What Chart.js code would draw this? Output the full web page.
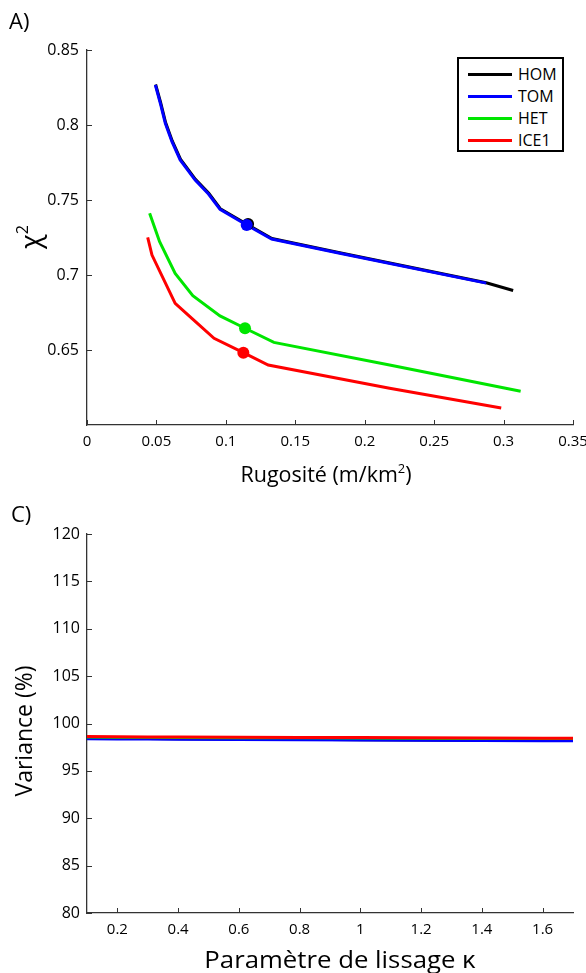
<!DOCTYPE html>
<html>
<head>
<meta charset="utf-8">
<script src="https://cdn.jsdelivr.net/npm/chart.js@4.4.1/dist/chart.umd.min.js"></script>
<style>
  html, body { margin:0; padding:0; background:#fff; }
  body { width:586px; height:973px; position:relative; overflow:hidden; font-family:'Open Sans', sans-serif; color:#000; }
  .cv { position:absolute; left:0; }
  .lbl { position:absolute; white-space:nowrap; line-height:1; }
  .c { transform:translate(-50%,-50%); }
  .rot { transform:translate(-50%,-50%) rotate(-90deg); }
  sup { font-size:60%; vertical-align:0.7em; line-height:0; }
  #legend { position:absolute; left:457px; top:57px; width:103px; height:91px; border:2px solid #000; background:#fff; }
  .li { position:absolute; left:9px; height:20px; display:flex; align-items:center; font-size:16px; }
  .li span.sw { display:inline-block; width:44px; height:3px; margin-right:6px; }
</style>
</head>
<body>
<canvas id="chartA" class="cv" width="586" height="500" style="top:0;width:586px;height:500px"></canvas>
<canvas id="chartC" class="cv" width="586" height="483" style="top:490px;width:586px;height:483px"></canvas>

<div class="lbl" style="left:9px;top:9px;font-size:22px">A)</div>
<div class="lbl" style="left:11px;top:502px;font-size:22px">C)</div>
<div class="lbl c" style="left:326px;top:474px;font-size:21.5px">Rugosité (m/km<sup>2</sup>)</div>
<div class="lbl" style="left:340px;top:959px;font-size:23px;transform:translate(-50%,-50%) scaleX(1.12)">Paramètre de lissage κ</div>
<div class="lbl rot" style="left:29px;top:237px;font-size:27px">χ<sup>2</sup></div>
<div class="lbl rot" style="left:23px;top:731px;font-size:23px">Variance (%)</div>

<div id="legend"></div>

<script>
// ---------- Panel A data : chi2 vs roughness ----------
const seriesNames = ['HOM', 'TOM', 'HET', 'ICE1'];
const seriesColors = ['#000000', '#0000FF', '#00E600', '#FF0000'];

const homX = [0.0494, 0.0530, 0.0566, 0.0614, 0.0673, 0.0781, 0.0877, 0.0960, 0.1152, 0.1332, 0.1820, 0.2875, 0.3069];
const homY = [0.8270, 0.8150, 0.8016, 0.7894, 0.7772, 0.7638, 0.7545, 0.7442, 0.7338, 0.7243, 0.7148, 0.6948, 0.6897];

const tomX = [0.0492, 0.0528, 0.0564, 0.0612, 0.0671, 0.0779, 0.0875, 0.0958, 0.1150, 0.1330, 0.1820, 0.2875];
const tomY = [0.8267, 0.8145, 0.8011, 0.7889, 0.7767, 0.7633, 0.7540, 0.7438, 0.7333, 0.7240, 0.7145, 0.6946];

const hetX = [0.0451, 0.0523, 0.0635, 0.0762, 0.0958, 0.1138, 0.1346, 0.2179, 0.3123];
const hetY = [0.7411, 0.7222, 0.7011, 0.6862, 0.6727, 0.6645, 0.6551, 0.6400, 0.6225];

const iceX = [0.0437, 0.0468, 0.0635, 0.0755, 0.0915, 0.1126, 0.1305, 0.2179, 0.2983];
const iceY = [0.7251, 0.7133, 0.6811, 0.6711, 0.6578, 0.6482, 0.6400, 0.6245, 0.6114];

// optimum markers (HOM, TOM, HET, ICE1)
const markX = [0.1160, 0.1150, 0.1138, 0.1126];
const markY = [0.7340, 0.7333, 0.6645, 0.6482];

const xTicksA = [0, 0.05, 0.1, 0.15, 0.2, 0.25, 0.3, 0.35];
const yTicksA = [0.65, 0.7, 0.75, 0.8, 0.85];

// ---------- Panel C data : variance vs smoothing parameter ----------
const kappa   = [0.1, 0.2, 0.3, 0.4, 0.6, 0.8, 1.0, 1.2, 1.4, 1.6, 1.7];
const varHOM  = [98.42, 98.40, 98.38, 98.36, 98.33, 98.30, 98.27, 98.24, 98.21, 98.19, 98.18];
const varTOM  = [98.37, 98.35, 98.33, 98.31, 98.28, 98.25, 98.22, 98.20, 98.17, 98.15, 98.15];
const varHET  = [98.55, 98.53, 98.51, 98.50, 98.48, 98.46, 98.44, 98.42, 98.40, 98.39, 98.38];
const varICE1 = [98.62, 98.60, 98.58, 98.57, 98.55, 98.53, 98.51, 98.49, 98.47, 98.45, 98.44];

const xTicksC = [0.2, 0.4, 0.6, 0.8, 1, 1.2, 1.4, 1.6];
const yTicksC = [80, 85, 90, 95, 100, 105, 110, 115, 120];

// ---------- helpers ----------
const pts = (xs, ys) => xs.map((x, i) => ({x, y: ys[i]}));

Chart.defaults.font.family = "'Open Sans', sans-serif";
Chart.defaults.font.size = 16;
Chart.defaults.color = '#000';

const inwardTicks = {
  id: 'inwardTicks',
  afterDatasetsDraw(chart) {
    const {ctx, chartArea: a} = chart;
    const xs = chart.scales.x, ys = chart.scales.y;
    ctx.save();
    ctx.strokeStyle = '#333';
    ctx.lineWidth = 1;
    ctx.beginPath();
    xs.ticks.forEach(t => {
      const p = Math.round(xs.getPixelForValue(t.value)) + 0.5;
      ctx.moveTo(p, a.bottom); ctx.lineTo(p, a.bottom - 5);
    });
    ys.ticks.forEach(t => {
      const p = Math.round(ys.getPixelForValue(t.value)) + 0.5;
      ctx.moveTo(a.left, p); ctx.lineTo(a.left + 5, p);
    });
    ctx.stroke();
    ctx.restore();
  }
};

function axis(min, max, ticks, opts) {
  return {
    type: 'linear', min, max,
    afterBuildTicks: s => { s.ticks = ticks.map(v => ({value: v})); },
    afterFit: s => {
      if (opts.w !== undefined) s.width = opts.w;
      if (opts.h !== undefined) s.height = opts.h;
      s.paddingLeft = 0; s.paddingRight = 0; s.paddingTop = 0; s.paddingBottom = 0;
    },
    grid: {display: false, drawTicks: false},
    border: {display: true, color: '#333', width: 1.3},
    ticks: {padding: opts.pad, font: {size: opts.fs || 16}, color: '#000', autoSkip: false, maxRotation: 0, callback: v => String(v)}
  };
}

function baseOptions(pad, scales) {
  return {
    responsive: false, animation: false, devicePixelRatio: 1,
    layout: {padding: pad},
    plugins: {legend: {display: false}, tooltip: {enabled: false}},
    elements: {line: {tension: 0, borderWidth: 3}, point: {radius: 0}},
    scales
  };
}

// ---------- Chart A ----------
const lineSetsA = [pts(homX, homY), pts(tomX, tomY), pts(hetX, hetY), pts(iceX, iceY)];
const dsA = [];
lineSetsA.forEach((d, i) => {
  dsA.push({label: seriesNames[i], data: d, borderColor: seriesColors[i], backgroundColor: seriesColors[i],
            showLine: true, fill: false, pointRadius: 0, borderWidth: 3, order: 20 - i});
});
seriesNames.forEach((n, i) => {
  dsA.push({label: n + ' opt', data: [{x: markX[i], y: markY[i]}], showLine: false,
            pointRadius: 6, pointBackgroundColor: seriesColors[i], pointBorderColor: seriesColors[i],
            pointBorderWidth: 0, order: 5 - i});
});

new Chart(document.getElementById('chartA'), {
  type: 'scatter',
  data: {datasets: dsA},
  options: baseOptions({top: 50, right: 13, left: 0, bottom: 0}, {
    x: axis(0, 0.35, xTicksA, {h: 75, pad: 8, fs: 15}),
    y: axis(0.6, 0.85, yTicksA, {w: 87, pad: 8})
  }),
  plugins: [inwardTicks]
});

// ---------- Chart C ----------
const varSets = [varHOM, varTOM, varHET, varICE1];
const dsC = varSets.map((v, i) => ({
  label: seriesNames[i], data: pts(kappa, v), borderColor: seriesColors[i], backgroundColor: seriesColors[i],
  showLine: true, fill: false, pointRadius: 0, borderWidth: i === 3 ? 3 : 2.5, order: 20 - i
}));

new Chart(document.getElementById('chartC'), {
  type: 'scatter',
  data: {datasets: dsC},
  options: baseOptions({top: 44, right: 13, left: 0, bottom: 0}, {
    x: axis(0.1, 1.7, xTicksC, {h: 60, pad: 8, fs: 15}),
    y: axis(80, 120, yTicksC, {w: 87, pad: 7})
  }),
  plugins: [inwardTicks]
});

// ---------- Legend (panel A) ----------
const leg = document.getElementById('legend');
seriesNames.forEach((n, i) => {
  const row = document.createElement('div');
  row.className = 'li';
  row.style.top = (5 + i * 22) + 'px';
  row.innerHTML = '<span class="sw" style="background:' + seriesColors[i] + '"></span>' + n;
  leg.appendChild(row);
});
</script>
</body>
</html>
